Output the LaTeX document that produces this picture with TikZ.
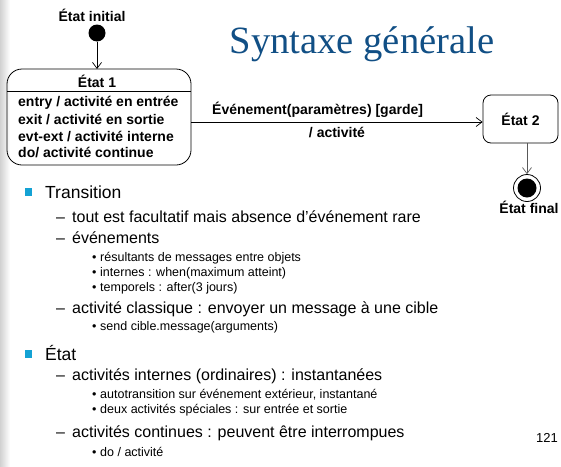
\documentclass[tikz,border=0pt]{standalone}
\usepackage{fontspec}
\setmainfont{Liberation Sans}
\newfontfamily\titlefont{Liberation Serif}
\usetikzlibrary{arrows.meta}

\definecolor{titleblue}{RGB}{17,79,133}
\definecolor{bulletblue}{RGB}{20,162,212}

\tikzset{
    etat/.style={draw, rounded corners=8pt, line width=0.8pt, font=\fontsize{14}{16}\selectfont\bfseries},
    lbl/.style={font=\fontsize{14}{16}\selectfont\bfseries, inner sep=0pt},
    trans/.style={-{Straight Barb[length=6pt, width=9pt]}, line width=0.7pt},
    niv1/.style={anchor=base west, inner sep=0pt, font=\fontsize{17.5}{20}\selectfont},
    niv2/.style={anchor=base west, inner sep=0pt, font=\fontsize{16}{18}\selectfont},
    niv3/.style={anchor=base west, inner sep=0pt, font=\fontsize{12.5}{14}\selectfont}
}

\begin{document}
\begin{tikzpicture}[x=1pt, y=-1pt]
    \useasboundingbox (0,0) rectangle (561,466);
    % left edge shading
    \shade[left color=black!18, right color=white] (0,0) rectangle (10,466);

    % Title
    \node[anchor=base, inner sep=0pt, text=titleblue, font=\titlefont\fontsize{38.6}{40}\selectfont] (titre) at (362,53) {Syntaxe générale};

    % Initial state
    \node[lbl] (initlbl) at (92,15) {État initial};
    \node[circle, fill=black, minimum size=17pt, inner sep=0pt] (init) at (97,33) {};

    % State 1 with compartments
    \draw[line width=0.8pt, rounded corners=15pt] (7,69) rectangle (191,165);
    \coordinate (e1top) at (97,69);
    \coordinate (e1right) at (191,122);
    \draw[line width=0.6pt] (7,91) -- (191,91);
    \node[lbl] (e1) at (97,81) {État 1};
    \node[lbl, anchor=west] (entry) at (18,103) {entry / activité en entrée};
    \node[lbl, anchor=west] (exit) at (18,119.5) {exit / activité en sortie};
    \node[lbl, anchor=west] (evt) at (18,136.5) {evt-ext / activité interne};
    \node[lbl, anchor=west] (do) at (18,153) {do/ activité continue};
    \draw[trans] (init) -- (e1top);

    % State 2 and final state
    \node[etat, minimum width=75pt, minimum height=48pt] (e2) at (520.5,119) {État 2};
    \node[circle, draw, line width=0.8pt, minimum size=27pt, inner sep=0pt] (fin) at (527,188) {};
    \node[circle, fill=black, minimum size=19pt, inner sep=0pt] at (fin) {};
    \node[lbl] (finlbl) at (529,207) {État final};

    % Transitions
    \draw[trans] (e1right) -- (e2.west |- e1right);
    \node[lbl, anchor=west] (evtlbl) at (212,110) {Événement(paramètres) [garde]};
    \node[lbl] (actlbl) at (337,133) {/ activité};
    \draw[trans, black!65] (e2.south -| fin) -- (fin.north);

    % Bullet list
    \fill[bulletblue] (25,188) rectangle (32,196);
    \node[niv1] at (45,198) {Transition};
    \node[niv2] at (56,222) {–};
    \node[niv2] at (72,222) {tout est facultatif mais absence d’événement rare};
    \node[niv2] at (56,243) {–};
    \node[niv2] at (72,243) {événements};
    \foreach \y/\txt in {261.5/résultants de messages entre objets,
                         276.5/internes : when(maximum atteint),
                         291.5/temporels : after(3 jours)} {
        \node[niv3] at (92,\y) {•};
        \node[niv3] at (100,\y) {\txt};
    }
    \node[niv2] at (56,313) {–};
    \node[niv2] at (72,313) {activité classique : envoyer un message à une cible};
    \node[niv3] at (92,330) {•};
    \node[niv3] at (100,330) {send cible.message(arguments)};

    \fill[bulletblue] (25,350) rectangle (32,358);
    \node[niv1] at (45,360) {État};
    \node[niv2] at (56,380) {–};
    \node[niv2] at (72,380) {activités internes (ordinaires) : instantanées};
    \node[niv3] at (92,398) {•};
    \node[niv3] at (100,398) {autotransition sur événement extérieur, instantané};
    \node[niv3] at (92,413.5) {•};
    \node[niv3] at (100,413.5) {deux activités spéciales : sur entrée et sortie};
    \node[niv2] at (56,437) {–};
    \node[niv2] at (72,437) {activités continues : peuvent être interrompues};
    \node[niv3] at (92,456.5) {•};
    \node[niv3] at (100,456.5) {do / activité};

    % page number
    \node[anchor=base, inner sep=0pt, font=\fontsize{13}{15}\selectfont] (page) at (547,442) {121};
\end{tikzpicture}
\end{document}
